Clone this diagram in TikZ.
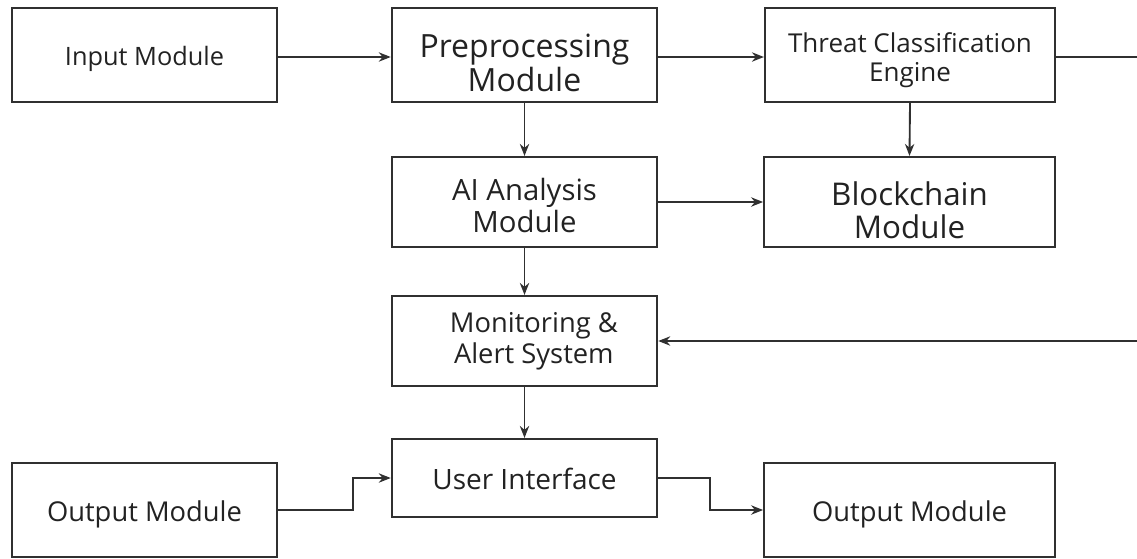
\documentclass[tikz,border=0pt]{standalone}
\usepackage{fontspec}
\setmainfont{Open Sans}
\usetikzlibrary{arrows.meta}
\definecolor{ink}{HTML}{303030}
\definecolor{txt}{HTML}{222222}
\tikzset{
  blk/.style={draw=ink, line width=1.6pt, rectangle, inner sep=0pt},
  lab/.style={align=center, text=txt, inner sep=0pt},
  conn/.style={draw=ink, line width=1.4pt, -{Stealth[length=9pt,width=7pt]}},
  plain/.style={draw=ink, line width=1.4pt}
}
\begin{document}
\begin{tikzpicture}[x=0.75pt,y=-0.75pt]
\useasboundingbox (0,0) rectangle (1137,558);
\node[blk, minimum width=199pt, minimum height=70.5pt,
  label={[lab, font=\fontsize{19}{23}\selectfont, yshift=-3pt]center:Input Module}] (inp) at (144.5,55) {};
\node[blk, minimum width=199pt, minimum height=70.5pt,
  label={[lab, font=\fontsize{24}{23.5}\selectfont, yshift=-6pt]center:Preprocessing\\Module}] (pre) at (524.5,55) {};
\node[blk, minimum width=217.5pt, minimum height=70.5pt,
  label={[lab, font=\fontsize{19.5}{22}\selectfont, yshift=-4pt]center:Threat Classification\\Engine}] (thr) at (910,55) {};
\node[blk, minimum width=199pt, minimum height=67.5pt,
  label={[lab, font=\fontsize{22}{23.5}\selectfont, yshift=-2.5pt]center:AI Analysis\\Module}] (ai) at (524.5,202) {};
\node[blk, minimum width=218pt, minimum height=67.5pt,
  label={[lab, font=\fontsize{23.5}{24.5}\selectfont, yshift=-6pt]center:Blockchain\\Module}] (bc) at (909.5,202) {};
\node[blk, minimum width=199pt, minimum height=67.5pt,
  label={[lab, font=\fontsize{20.5}{23.5}\selectfont, xshift=7pt]center:Monitoring \&\\Alert System}] (mon) at (524.5,341) {};
\node[blk, minimum width=199pt, minimum height=58.5pt,
  label={[lab, font=\fontsize{21}{23}\selectfont, yshift=-1pt]center:User Interface}] (ui) at (524.5,478) {};
\node[blk, minimum width=199pt, minimum height=70.5pt,
  label={[lab, font=\fontsize{20.5}{23}\selectfont, yshift=-3pt]center:Output Module}] (outl) at (144.5,510) {};
\node[blk, minimum width=218pt, minimum height=70.5pt,
  label={[lab, font=\fontsize{20.5}{23}\selectfont, yshift=-3pt]center:Output Module}] (outr) at (909.5,510) {};
\coordinate (edgeA) at (1137,57);
\coordinate (edgeB) at (1137,341);
\draw[conn] (inp.east |- 0,57) -- (pre.west |- 0,57);
\draw[conn] (pre.east |- 0,57) -- (thr.west |- 0,57);
\draw[plain] (thr.east |- 0,57) -- (edgeA);
\draw[conn] (pre.south) -- (ai.north);
\draw[conn] (thr.south) -- (bc.north);
\draw[conn] (ai.east) -- (bc.west);
\draw[conn] (ai.south) -- (mon.north);
\draw[conn] (edgeB) -- (mon.east);
\draw[conn] (mon.south) -- (ui.north);
\draw[conn] (outl.east) -- (353,510) |- (ui.west);
\draw[conn] (ui.east) -- (710,478) |- (outr.west);
\end{tikzpicture}
\end{document}
